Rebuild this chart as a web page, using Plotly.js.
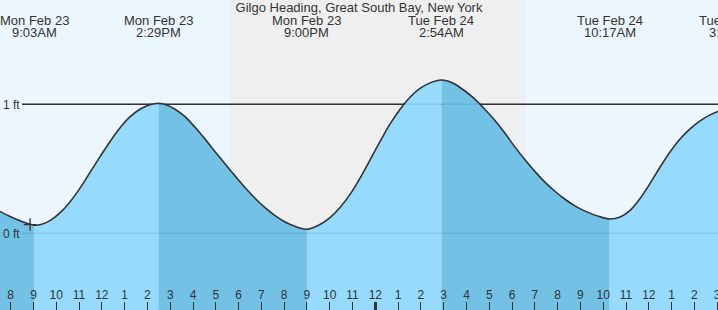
<!DOCTYPE html>
<html>
<head>
<meta charset="utf-8">
<script src="https://cdn.plot.ly/plotly-3.0.1.min.js"></script>
<style>
html,body{margin:0;padding:0;overflow:hidden;background:#ecf6fe;}
#chart{width:760px;height:310px;}
</style>
</head>
<body>
<div id="chart"></div>
<script>
// ---- data (hours since Mon Feb 23 00:00, feet) ----
const chartTitle = 'Gilgo Heading, Great South Bay, New York';
const tideHours = [7.53, 8.0, 8.41, 8.75, 9.05, 9.40, 9.72, 10.16, 10.60, 11.04, 11.48, 11.92, 12.36, 12.80, 13.23, 13.67, 14.11, 14.483,
  14.85, 15.21, 15.65, 16.09, 16.53, 16.96, 17.40, 17.84, 18.28, 18.72, 19.16, 19.60, 20.04, 20.47, 21.0,
  21.57, 22.01, 22.45, 22.89, 23.33, 23.77, 24.21, 24.64, 25.08, 25.52, 25.96, 26.40, 26.65, 26.9,
  27.17, 27.48, 27.92, 28.37, 28.80, 29.25, 29.69, 30.12, 30.57, 31.00, 31.44, 31.88, 32.32, 32.76, 33.20, 33.86, 34.283,
  34.74, 35.18, 35.61, 36.05, 36.49, 36.93, 37.37, 37.81, 38.25, 38.69, 39.04, 39.633];
const tideFeet = [0.170, 0.128, 0.097, 0.075, 0.062, 0.072, 0.098, 0.158, 0.243, 0.350, 0.472, 0.594, 0.712, 0.818, 0.902, 0.962, 0.996, 1.008,
  0.995, 0.962, 0.905, 0.822, 0.730, 0.635, 0.540, 0.446, 0.355, 0.272, 0.199, 0.137, 0.088, 0.055, 0.031,
  0.068, 0.122, 0.200, 0.302, 0.428, 0.569, 0.712, 0.846, 0.960, 1.055, 1.123, 1.166, 1.181, 1.188,
  1.180, 1.158, 1.105, 1.040, 0.962, 0.875, 0.775, 0.670, 0.570, 0.480, 0.397, 0.326, 0.264, 0.213, 0.172, 0.128, 0.111,
  0.126, 0.178, 0.268, 0.385, 0.512, 0.630, 0.731, 0.810, 0.872, 0.918, 0.945, 0.958];

const extremeHours = [9.05, 14.483, 21.0, 26.9, 34.283, 39.633];
const extremeDates = ['Mon Feb 23', 'Mon Feb 23', 'Mon Feb 23', 'Tue Feb 24', 'Tue Feb 24', 'Tue Feb 24'];
const extremeTimes = ['9:03AM', '2:29PM', '9:00PM', '2:54AM', '10:17AM', '3:38PM'];

const nightStart = 17.62;   // sunset Mon
const nightEnd = 30.57;     // sunrise Tue
const nowHour = 8.85;
const nowFeet = 0.068;

const tickHours = [8,9,10,11,12,13,14,15,16,17,18,19,20,21,22,23,24,25,26,27,28,29,30,31,32,33,34,35,36,37,38,39,40];
const tickLabels = ['8','9','10','11','12','1','2','3','4','5','6','7','8','9','10','11','12','1','2','3','4','5','6','7','8','9','10','11','12','1','2','3','4'];
const midnightHour = [24];
const levelTicks = [0, 1];
const levelLabels = ['0 ft', '1 ft'];

// ---- styling ----
const FONT = 'Liberation Sans, Arial, sans-serif';
const TXT = '#333333';
const RISING = '#96dbfd';
const FALLING = '#73c1e5';
const XR = [7.5305, 40.879];
const YR = [-0.5946, 1.8086];

const traces = [];
// fill segments between successive extremes
const lastH = tideHours[tideHours.length-1];
const bounds = [tideHours[0]].concat(extremeHours.filter(h => h > tideHours[0] && h < lastH), [lastH]);
for (let i = 0; i < bounds.length - 1; i++) {
  const sx = [], sy = [];
  tideHours.forEach((h, k) => { if (h >= bounds[i] && h <= bounds[i+1]) { sx.push(h); sy.push(tideFeet[k]); } });
  const rising = sy[sy.length-1] > sy[0];
  traces.push({x: [sx[0], sx[sx.length-1]], y: [YR[0]-0.5, YR[0]-0.5], mode: 'lines', line: {width: 0}, hoverinfo: 'skip', showlegend: false});
  traces.push({x: sx, y: sy, mode: 'lines', line: {width: 0, shape: 'spline', smoothing: 0.8}, fill: 'tonexty',
    fillcolor: rising ? RISING : FALLING, hoverinfo: 'skip', showlegend: false});
}
// the tide curve
traces.push({x: tideHours, y: tideFeet, mode: 'lines', line: {color: '#333333', width: 1.6, shape: 'spline', smoothing: 0.8},
  hoverinfo: 'skip', showlegend: false});
// current-time cross
traces.push({x: [nowHour], y: [nowFeet], mode: 'markers', marker: {symbol: 'cross-thin', size: 9, line: {width: 1.3, color: '#333333'}},
  hoverinfo: 'skip', showlegend: false});
// dummy trace for midnight axis
traces.push({x: midnightHour, y: [YR[0]-1], xaxis: 'x2', mode: 'markers', marker: {opacity: 0}, hoverinfo: 'skip', showlegend: false});

const annotations = [];
extremeHours.forEach((h, i) => {
  annotations.push({x: h, xref: 'x', y: 1 - 20.5/310, yref: 'paper', yanchor: 'middle', xanchor: 'center', showarrow: false,
    text: extremeDates[i], font: {family: FONT, size: 13, color: TXT}});
  annotations.push({x: h, xref: 'x', y: 1 - 32.5/310, yref: 'paper', yanchor: 'middle', xanchor: 'center', showarrow: false,
    text: extremeTimes[i], font: {family: FONT, size: 13, color: TXT}});
});

const layout = {
  width: 760, height: 310,
  margin: {l: 0, r: 0, t: 0, b: 0, pad: 0},
  paper_bgcolor: '#ecf6fe', plot_bgcolor: '#ecf6fe',
  title: {text: chartTitle, font: {family: FONT, size: 13, color: TXT}, x: 359/760, xref: 'container', xanchor: 'center',
    y: 1 - 7.5/310, yref: 'container', yanchor: 'middle'},
  xaxis: {range: XR, tickvals: tickHours, ticktext: tickLabels, ticks: 'inside', ticklen: 8, tickwidth: 1, tickcolor: '#333333',
    ticklabelposition: 'inside', ticklabeloverflow: 'allow', tickfont: {family: FONT, size: 12, color: TXT},
    showgrid: false, zeroline: false, showline: false, fixedrange: true},
  xaxis2: {range: XR, overlaying: 'x', anchor: 'y', side: 'bottom', tickvals: midnightHour, ticks: 'inside', ticklen: 8, tickwidth: 3,
    tickcolor: '#333333', showticklabels: false, showgrid: false, zeroline: false, showline: false, fixedrange: true},
  yaxis: {range: YR, tickvals: levelTicks, ticktext: levelLabels, ticks: '', ticklabelposition: 'inside', ticklabeloverflow: 'allow',
    tickfont: {family: FONT, size: 12, color: TXT}, showgrid: false, zeroline: false, showline: false, fixedrange: true},
  shapes: [
    {type: 'rect', xref: 'x', yref: 'paper', x0: nightStart, x1: nightEnd, y0: 0, y1: 1, fillcolor: '#efefef', line: {width: 0}, layer: 'below'},
    {type: 'line', xref: 'paper', yref: 'y', x0: 22/760, x1: 1, y0: 1, y1: 1, line: {color: '#333333', width: 1.4}, layer: 'below'},
    {type: 'line', xref: 'paper', yref: 'y', x0: 22/760, x1: 1, y0: 1, y1: 1, line: {color: 'rgba(0,60,110,0.10)', width: 1.4}, layer: 'above'},
    {type: 'line', xref: 'paper', yref: 'y', x0: 22/760, x1: 1, y0: 0, y1: 0, line: {color: 'rgba(0,60,110,0.10)', width: 1.4}, layer: 'above'}
  ],
  annotations: annotations,
  showlegend: false
};

Plotly.newPlot('chart', traces, layout, {displayModeBar: false, staticPlot: true});
</script>
</body>
</html>
